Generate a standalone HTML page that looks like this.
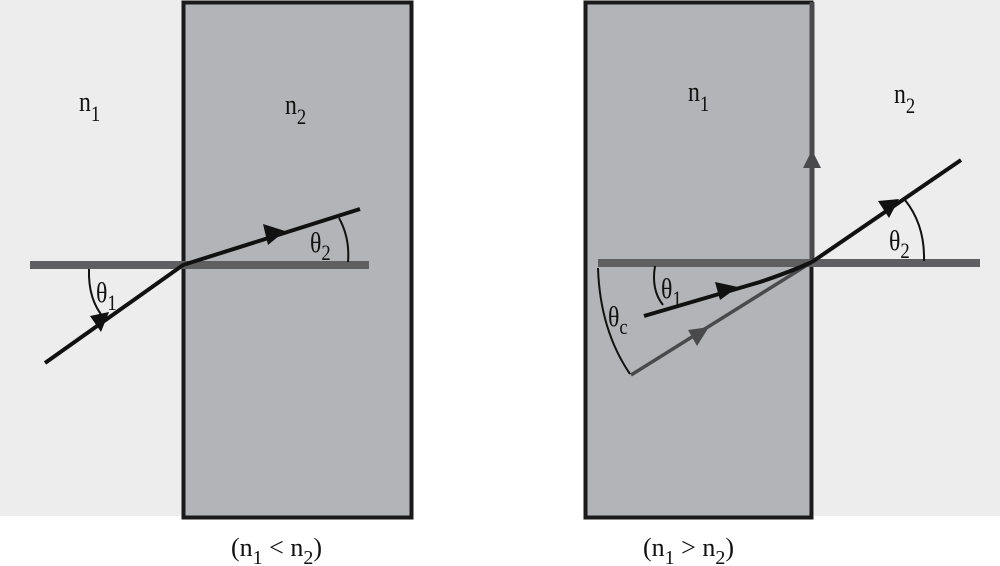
<!DOCTYPE html>
<html><head><meta charset="utf-8"><style>
html,body{margin:0;padding:0;background:#fff;width:1000px;height:566px;overflow:hidden}
text{font-family:"Liberation Serif",serif;fill:#111}
</style></head><body>
<svg width="1000" height="566" viewBox="0 0 1000 566" xmlns="http://www.w3.org/2000/svg">
<!-- left panel -->
<rect x="0" y="0" width="183" height="516" fill="#ededed"/>
<rect x="183.5" y="2.5" width="228" height="515" fill="#b3b4b7" stroke="#1a1a1a" stroke-width="4"/>
<line x1="30" y1="265" x2="369" y2="265" stroke="#5f5f61" stroke-width="8"/>
<polyline points="45,363 183,265 360,209" fill="none" stroke="#111" stroke-width="4"/>
<polygon points="109,312 90,316 101,332" fill="#111"/>
<polygon points="285,231 263,224 268,245" fill="#111"/>
<path d="M89,269 Q88,300 104,318" fill="none" stroke="#111" stroke-width="2"/>
<path d="M339,218 Q350,238 348,262" fill="none" stroke="#111" stroke-width="2"/>
<text x="96" y="302" font-size="28" transform="translate(96,302) scale(0.85,1) translate(-96,-302)">θ<tspan font-size="22" dy="8">1</tspan></text>
<text x="310" y="252" font-size="28" transform="translate(310,252) scale(0.85,1) translate(-310,-252)">θ<tspan font-size="22" dy="8">2</tspan></text>
<text x="79" y="111" font-size="28" transform="translate(79,111) scale(0.85,1) translate(-79,-111)">n<tspan font-size="22" dy="10">1</tspan></text>
<text x="285" y="114" font-size="28" transform="translate(285,114) scale(0.85,1) translate(-285,-114)">n<tspan font-size="22" dy="10">2</tspan></text>
<text x="231" y="556" font-size="26">(n<tspan font-size="20" dy="8">1</tspan><tspan dy="-8"> &lt; n</tspan><tspan font-size="20" dy="8">2</tspan><tspan dy="-8">)</tspan></text>
<!-- right panel -->
<rect x="814" y="0" width="186" height="516" fill="#ededed"/>
<rect x="585.5" y="2.5" width="226" height="515" fill="#b3b4b7" stroke="#1a1a1a" stroke-width="4"/>
<line x1="812" y1="2" x2="812" y2="264" stroke="#4a4a4c" stroke-width="5"/>
<polygon points="812,150 803,168 821,168" fill="#4a4a4c"/>
<line x1="598" y1="263" x2="980" y2="263" stroke="#5f5f61" stroke-width="8"/>
<line x1="631" y1="375" x2="812" y2="262" stroke="#4a4a4c" stroke-width="3.5"/>
<polygon points="709,327 688,330 697,346" fill="#4a4a4c"/>
<path d="M644,316 L760,282 Q790,272 812,262" fill="none" stroke="#111" stroke-width="4"/>
<polygon points="738,287 715,282 720,300" fill="#111"/>
<line x1="812" y1="262" x2="961" y2="160" stroke="#111" stroke-width="4"/>
<polygon points="899,199 878,201 889,218" fill="#111"/>
<path d="M598,268 Q600,330 630,374" fill="none" stroke="#111" stroke-width="2"/>
<path d="M655,266 Q651,290 663,305" fill="none" stroke="#111" stroke-width="2"/>
<path d="M905,200 Q925,225 924,261" fill="none" stroke="#111" stroke-width="2"/>
<text x="661" y="298" font-size="28" transform="translate(661,298) scale(0.85,1) translate(-661,-298)">θ<tspan font-size="22" dy="8">1</tspan></text>
<text x="608" y="326" font-size="28" transform="translate(608,326) scale(0.85,1) translate(-608,-326)">θ<tspan font-size="22" dy="8">c</tspan></text>
<text x="889" y="250" font-size="28" transform="translate(889,250) scale(0.85,1) translate(-889,-250)">θ<tspan font-size="22" dy="8">2</tspan></text>
<text x="688" y="101" font-size="28" transform="translate(688,101) scale(0.85,1) translate(-688,-101)">n<tspan font-size="22" dy="10">1</tspan></text>
<text x="894" y="103" font-size="28" transform="translate(894,103) scale(0.85,1) translate(-894,-103)">n<tspan font-size="22" dy="10">2</tspan></text>
<text x="643" y="556" font-size="26">(n<tspan font-size="20" dy="8">1</tspan><tspan dy="-8"> &gt; n</tspan><tspan font-size="20" dy="8">2</tspan><tspan dy="-8">)</tspan></text>
</svg>
</body></html>
